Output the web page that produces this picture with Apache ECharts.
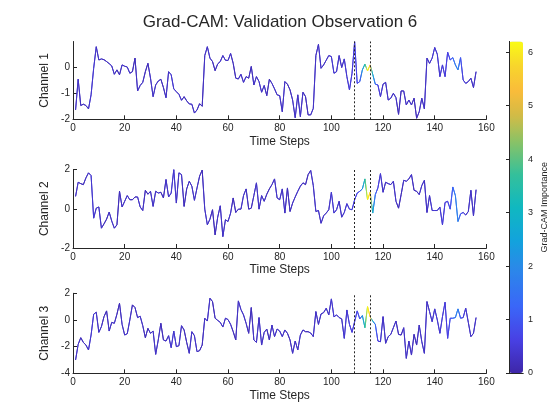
<!DOCTYPE html>
<html>
<head>
<meta charset="utf-8">
<script src="https://cdn.jsdelivr.net/npm/echarts@6/dist/echarts.min.js"></script>
<style>html,body{margin:0;padding:0;background:#fff}#c{width:560px;height:420px}</style>
</head>
<body>
<div id="c"></div>
<script>
// ---------------- data ----------------
const channel1 = [-1.64,-0.46,-1.47,-1.42,-1.47,-1.6,-1.06,-0.04,0.79,0.28,
0.32,0.29,0.22,0.14,0.05,-0.27,-0.1,-0.29,0.09,0.04,
0.01,-0.23,-0.17,0.35,-0.91,-0.7,-0.58,-0.17,0.15,-0.42,
-1.13,-0.68,-0.53,-0.46,-0.78,-1.17,-0.17,-0.29,-0.83,-0.94,
-1.04,-1.27,-1.13,-1.29,-1.41,-1.42,-1.76,-1.64,-1.4,-1.5,
0.45,0.79,0.35,0.22,-0.13,0.13,0.22,0.45,0.27,0.26,
0.53,0.15,-0.42,-0.45,-0.27,-0.58,-0.36,-0.42,0.03,-0.68,
-0.36,-0.55,-0.96,-0.7,-1.09,-0.46,-0.62,-0.83,-1.06,-1.09,
-1.71,-0.55,-0.65,-0.87,-1.26,-1.94,-1.06,-1.9,-0.96,-1.13,
-1.83,-1.83,-1.58,0.45,0.88,-0.04,0.09,0.27,0.45,0.41,
-0.23,-0.17,0.45,-0.01,0.32,-0.36,-0.87,-0.23,0.98,-0.62,
-0.55,-0.1,0.12,-0.14,0.09,-0.27,-0.65,-0.68,-1.13,-0.65,
-0.58,-1.26,-1.19,-1.0,-1.17,-1.81,-0.91,-0.91,-1.45,-1.26,
-1.45,-1.19,-1.96,-1.71,-1.19,-1.6,0.35,0.15,0.35,0.76,
0.5,-0.36,0.09,-0.36,0.58,0.28,0.37,0.09,-0.1,0.37,
-0.49,-0.62,-0.55,-0.42,-0.78,-0.17];

const channel2 = [0.63,1.35,1.28,1.23,1.57,1.83,1.69,-0.48,0.03,0.09,
-0.99,-0.77,-0.53,-0.17,-0.63,-0.99,-0.82,0.89,0.09,0.38,
0.67,0.46,0.46,0.6,0.6,0.09,-0.09,0.94,0.74,0.89,
0.12,0.89,0.8,0.84,0.55,1.49,0.6,0.8,1.99,0.29,
1.83,1.74,0.12,1.01,1.4,1.15,0.43,1.06,1.66,1.97,
-0.02,-0.82,-0.53,-0.05,-1.33,-0.43,0.15,-1.42,-0.56,-0.65,
-0.22,0.55,-0.19,-0.02,-0.02,0.67,1.01,-0.02,0.03,0.67,
1.32,-0.02,0.67,0.38,0.74,1.01,1.23,1.52,0.55,0.46,
1.01,-0.22,1.06,-0.14,0.29,0.6,0.89,1.15,1.32,1.23,
1.74,1.95,1.18,-0.14,-0.09,-0.74,-0.36,-0.22,-0.05,0.84,
-0.22,-0.05,0.38,-0.43,-0.19,0.26,-0.02,-0.05,0.46,0.8,
0.89,1.01,1.52,0.46,0.84,-0.22,0.72,1.06,1.79,0.84,
1.35,1.28,1.23,1.4,0.38,0.03,0.72,1.45,1.4,1.52,
1.74,0.94,0.89,0.72,1.18,1.45,-0.19,0.67,-0.09,-0.09,
-0.09,0.09,-0.82,0.32,0.38,-0.02,1.11,0.67,-0.65,-0.26,
-0.19,-0.32,-0.14,0.94,-0.36,0.97];

const channel3 = [-3.0,-1.83,-1.33,-1.68,-1.88,-2.25,-1.13,0.43,0.58,-0.93,
-0.5,0.25,0.68,-0.83,-0.18,-0.25,0.43,1.25,-0.33,-1.13,
-1.03,0.0,1.13,0.93,0.18,0.28,-0.43,-1.33,-0.63,-1.0,
-0.83,-2.58,-1.5,-0.25,-1.5,-1.58,-1.18,-2.08,-0.83,-2.0,
-1.93,-0.43,-0.75,-1.68,-2.5,-0.88,-1.18,-2.38,-2.3,-1.88,
0.13,-0.08,1.63,1.38,0.13,-0.03,-0.18,-0.53,0.13,0.03,
-0.33,-0.88,-1.5,1.43,0.78,0.38,-0.25,-1.0,0.93,-1.5,
-1.68,0.18,-1.88,-0.93,-0.68,-1.5,-0.38,-1.25,-0.68,-0.83,
-1.25,-0.75,-1.0,-1.5,-2.5,-1.58,-2.25,-1.13,-0.75,-0.88,
-0.88,-0.98,-1.25,0.63,-0.33,0.45,0.55,0.88,0.38,1.58,
0.23,0.38,0.18,0.08,-1.38,0.75,-0.33,-0.93,-0.13,0.68,
0.08,0.33,-0.58,1.0,0.23,-0.08,-0.33,-1.58,-1.63,0.25,
-1.75,-1.25,-1.08,-0.58,-0.08,-1.08,-1.13,-0.58,-2.88,-1.58,
-2.63,-1.08,-1.88,-0.38,-1.63,-2.5,1.38,0.63,-0.13,0.83,
0.0,-1.0,0.25,1.33,-1.38,0.13,0.13,0.18,0.83,0.13,
0.18,0.88,-0.18,-1.25,-1.0,0.18];

// Grad-CAM importance per time step (shared by the three channels)
const camImportance = [0.3,0.3,0.2,0.2,0.3,0.3,0.4,0.4,0.3,0.3,
0.3,0.2,0.2,0.3,0.3,0.3,0.2,0.2,0.3,0.3,
0.3,0.3,0.2,0.2,0.3,0.3,0.3,0.2,0.2,0.3,
0.3,0.3,0.3,0.2,0.2,0.3,0.3,0.4,0.4,0.3,
0.3,0.3,0.2,0.2,0.3,0.3,0.3,0.3,0.2,0.2,
0.3,0.3,0.3,0.2,0.2,0.3,0.3,0.3,0.3,0.3,
0.3,0.2,0.2,0.3,0.3,0.3,0.3,0.2,0.2,0.3,
0.3,0.3,0.3,0.3,0.2,0.2,0.3,0.3,0.3,0.3,
0.3,0.3,0.2,0.2,0.3,0.3,0.3,0.3,0.3,0.2,
0.2,0.3,0.3,0.3,0.3,0.3,0.3,0.3,0.3,0.4,
0.4,0.4,0.3,0.3,0.4,0.4,0.5,0.5,0.6,0.7,
0.9,2.2,3.4,6.1,5.4,2.8,1.3,0.6,0.4,0.3,
0.3,0.3,0.3,0.3,0.3,0.2,0.2,0.3,0.3,0.3,
0.3,0.2,0.2,0.3,0.3,0.3,0.3,0.3,0.4,0.4,
0.4,0.4,0.5,0.5,0.6,0.8,1.2,1.7,1.8,1.0,
0.5,0.4,0.3,0.3,0.3,0.3];

const timeSteps = channel1.map((_, i) => i + 1);
const markerSteps = [109, 115];
const channelNames = ['Channel 1', 'Channel 2', 'Channel 3'];
const channelRanges = [[-2, 0.99, 1], [-2, 2, 2], [-4, 2, 2]];
const channelTicks = [[-2, -1, 0], [-2, 0, 2], [-4, -2, 0, 2]];
const xTicks = [0, 20, 40, 60, 80, 100, 120, 140, 160];
const camMax = 6.2;
const camTicks = [0, 1, 2, 3, 4, 5, 6];
const titleText = 'Grad-CAM: Validation Observation 6';

// ---------------- style ----------------
const FONT = "'Liberation Sans', Arial, Helvetica, sans-serif";
const INK = '#262626';
const parulaKeys = [
  [0.00, '#3e26a8'], [0.10, '#4840e4'], [0.20, '#3a66f8'], [0.32, '#2a8ae8'],
  [0.40, '#12a3dc'], [0.50, '#10b8c0'], [0.60, '#35c09a'], [0.70, '#8cc265'],
  [0.78, '#d5bb45'], [0.85, '#f9bc3a'], [0.92, '#f8d22e'], [1.00, '#f9fb15']
];
function hex2rgb(h){return [parseInt(h.substr(1,2),16),parseInt(h.substr(3,2),16),parseInt(h.substr(5,2),16)];}
function parula(f){
  f = Math.max(0, Math.min(1, f));
  for (let k = 1; k < parulaKeys.length; k++) {
    if (f <= parulaKeys[k][0]) {
      const a = parulaKeys[k-1], b = parulaKeys[k];
      const u = (f - a[0]) / (b[0] - a[0]);
      const ca = hex2rgb(a[1]), cb = hex2rgb(b[1]);
      const c = ca.map((v, j) => Math.round(v + (cb[j] - v) * u));
      return 'rgb(' + c.join(',') + ')';
    }
  }
  return parulaKeys[parulaKeys.length-1][1];
}
const parulaList = [];
for (let i = 0; i <= 40; i++) parulaList.push(parula(i / 40));

const gridBoxes = [
  {left: 73, width: 413.4, top: 41.5, height: 77.8},
  {left: 73, width: 413.4, top: 169.5, height: 78.5},
  {left: 73, width: 413.4, top: 293.3, height: 80},
  {left: 509, width: 14, top: 41.5, height: 331.5}
];
const txt = (size) => ({fontSize: size, color: INK, fontFamily: FONT});

const xAxes = [], yAxes = [], series = [];
for (let i = 0; i < 3; i++) {
  xAxes.push({
    gridIndex: i, type: 'value', min: 0, max: 160, interval: 20,
    name: 'Time Steps', nameLocation: 'middle', nameGap: 16, nameTextStyle: txt(12),
    axisLine: {show: true, onZero: false, lineStyle: {color: INK, width: 1}},
    axisTick: {show: true, inside: true, length: 4, lineStyle: {color: INK}},
    axisLabel: Object.assign({margin: 4}, txt(10)),
    splitLine: {show: false}
  });
  const r = channelRanges[i];
  yAxes.push({
    gridIndex: i, type: 'value', min: r[0], max: r[1], interval: r[2],
    name: channelNames[i], nameLocation: 'middle', nameGap: 16, nameTextStyle: txt(12),
    axisLine: {show: true, onZero: false, lineStyle: {color: INK, width: 1}},
    axisTick: {show: true, inside: true, length: 4, lineStyle: {color: INK}, customValues: channelTicks[i]},
    axisLabel: Object.assign({margin: 3, customValues: channelTicks[i]}, txt(10)),
    splitLine: {show: false}
  });
  const ys = [channel1, channel2, channel3][i];
  series.push({
    type: 'line', xAxisIndex: i, yAxisIndex: i,
    data: timeSteps.map((t, k) => [t, ys[k]]),
    showSymbol: false, symbol: 'none', silent: true, clip: true,
    lineStyle: {width: 1, color: '#4434c4'},
    emphasis: {disabled: true},
    markLine: {
      silent: true, symbol: ['none', 'none'], label: {show: false},
      lineStyle: {type: [2, 2], color: INK, width: 1},
      emphasis: {disabled: true},
      data: markerSteps.map(v => ({xAxis: v}))
    }
  });
}
// colorbar frame axes
xAxes.push({gridIndex: 3, type: 'value', min: 0, max: 1, position: 'bottom', z: 10,
  axisLine: {show: true, lineStyle: {color: INK, width: 1}}, axisTick: {show: false}, axisLabel: {show: false}, splitLine: {show: false}});
xAxes.push({gridIndex: 3, type: 'value', min: 0, max: 1, position: 'top', z: 10,
  axisLine: {show: true, lineStyle: {color: INK, width: 1}}, axisTick: {show: false}, axisLabel: {show: false}, splitLine: {show: false}});
yAxes.push({gridIndex: 3, type: 'value', min: 0, max: camMax, interval: 1, position: 'right', z: 10,
  name: 'Grad-CAM Importance', nameLocation: 'middle', nameRotate: 90, nameGap: 17, nameTextStyle: txt(9),
  axisLine: {show: true, lineStyle: {color: INK, width: 1}},
  axisTick: {show: true, inside: true, length: 3, lineStyle: {color: INK}, customValues: camTicks},
  axisLabel: Object.assign({margin: 5, customValues: camTicks}, txt(9)),
  splitLine: {show: false}});
yAxes.push({gridIndex: 3, type: 'value', min: 0, max: camMax, position: 'left', z: 10,
  axisLine: {show: true, lineStyle: {color: INK, width: 1}}, axisTick: {show: false}, axisLabel: {show: false}, splitLine: {show: false}});
series.push({type: 'scatter', xAxisIndex: 3, yAxisIndex: 4, data: [], silent: true});

const option = {
  animation: false,
  backgroundColor: '#ffffff',
  title: {text: titleText, left: 'center', top: 14, padding: 0,
    textStyle: {fontSize: 17, fontWeight: 'normal', color: INK, fontFamily: FONT}},
  grid: gridBoxes,
  xAxis: xAxes,
  yAxis: yAxes,
  visualMap: {
    type: 'continuous', min: 0, max: camMax, seriesIndex: 3, orient: 'vertical',
    left: 509, top: 41.5, itemWidth: 14, itemHeight: 331.5, padding: 0,
    calculable: false, hoverLink: false, z: 2,
    inRange: {color: parulaList}, textStyle: {color: 'rgba(0,0,0,0)', fontSize: 1}
  },
  series: series
};

const chart = echarts.init(document.getElementById('c'), null, {renderer: 'canvas'});
chart.setOption(option);

// colour each trace by Grad-CAM importance, using the axis scale for stop positions
const px = t => chart.convertToPixel({gridIndex: 0}, [t, 0])[0];
const p0 = px(timeSteps[0]);
const p1 = px(timeSteps[timeSteps.length - 1]);
const stops = camImportance.map((c, k) => ({offset: (px(timeSteps[k]) - p0) / (p1 - p0), color: parula(c / camMax)}));
chart.setOption({
  series: [0, 1, 2].map(() => ({lineStyle: {color: new echarts.graphic.LinearGradient(p0, 0, p1, 0, stops, true)}}))
});
</script>
</body>
</html>
